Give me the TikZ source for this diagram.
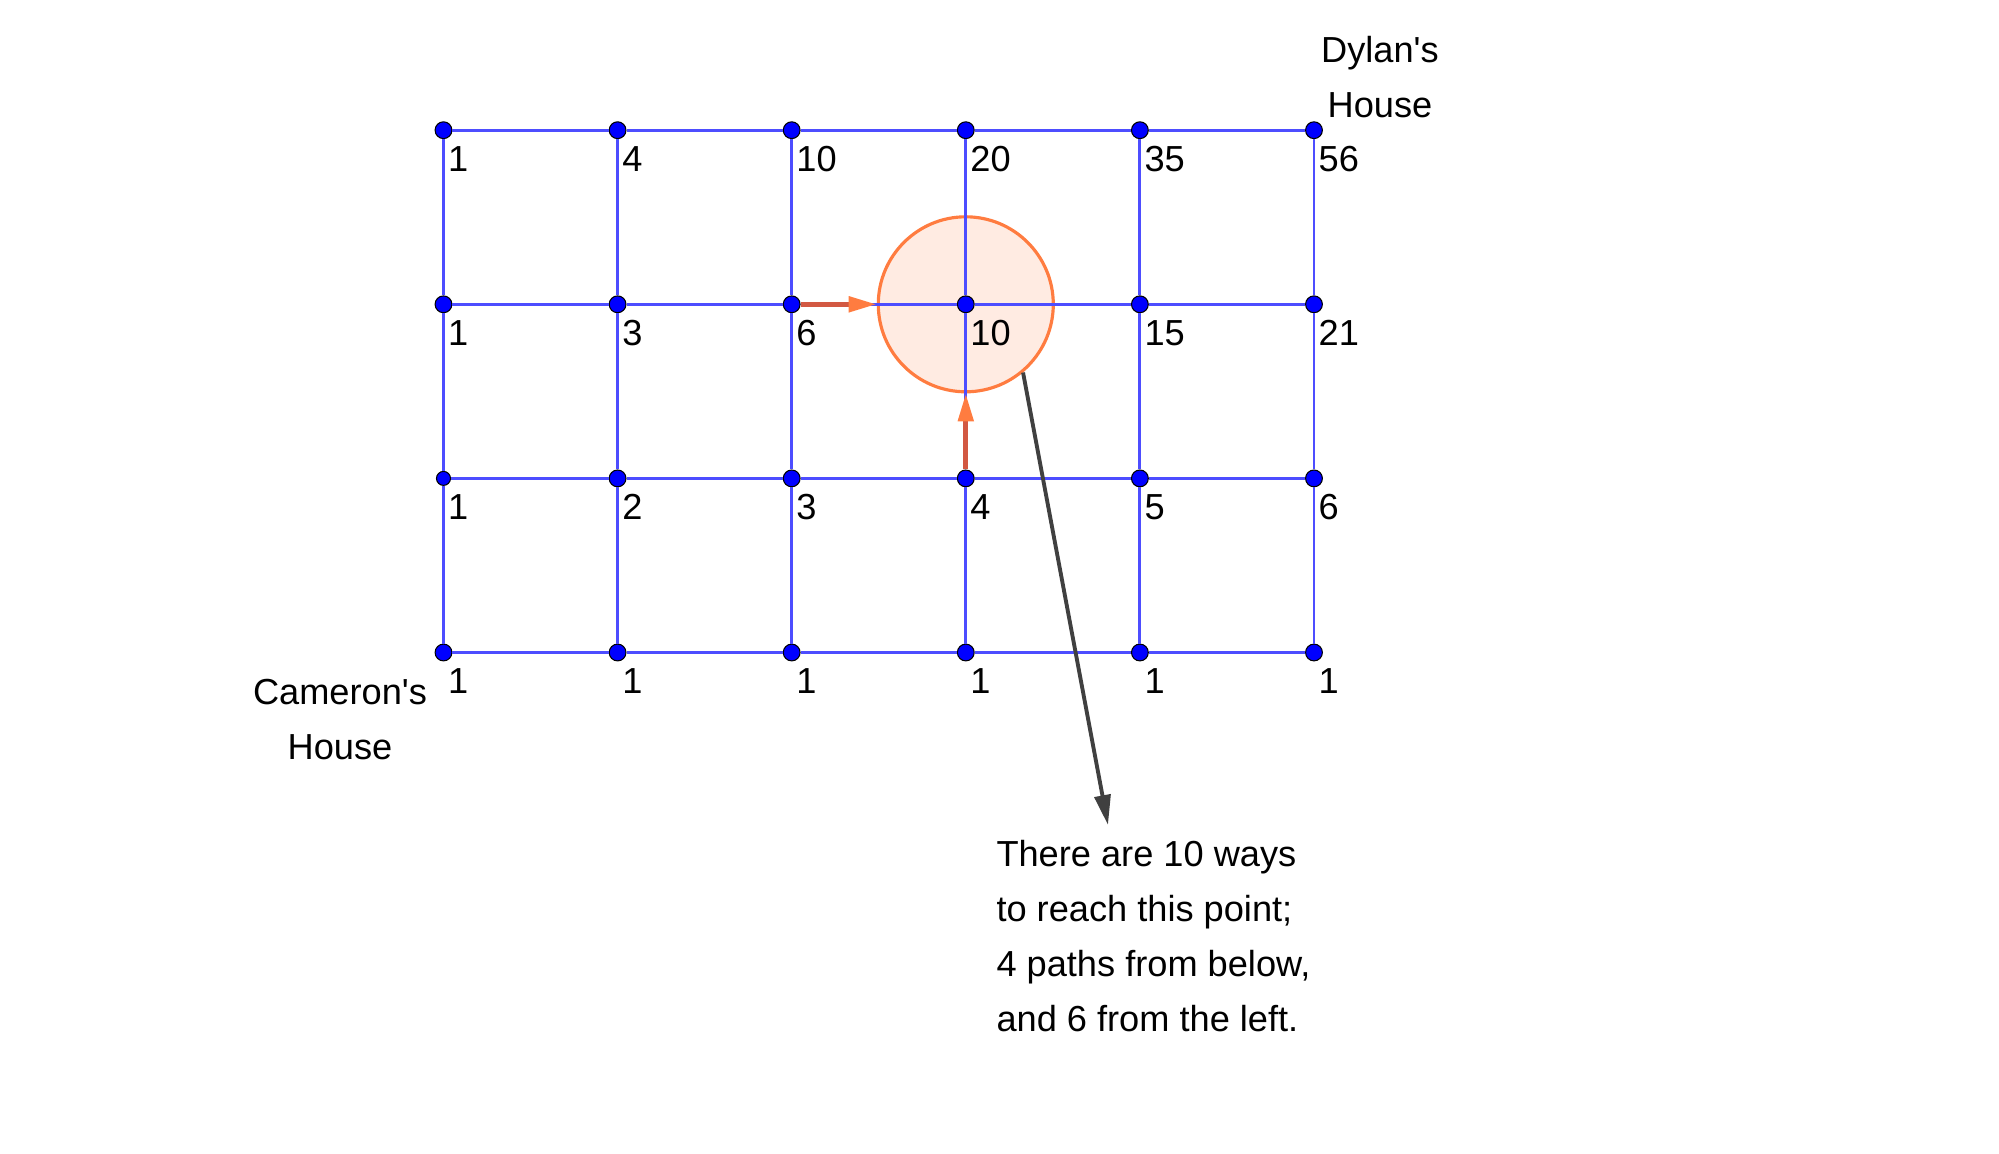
\documentclass[tikz,border=0pt]{standalone}
\usepackage{fontspec}
\setmainfont{Liberation Sans}
\usetikzlibrary{arrows.meta}

\definecolor{gridblue}{RGB}{77,77,255}
\definecolor{dotblue}{RGB}{0,0,255}
\definecolor{hiorange}{RGB}{255,124,64}
\definecolor{pathred}{RGB}{210,88,66}
\definecolor{notegray}{RGB}{64,64,64}

\begin{document}
\begin{tikzpicture}[x=1.741cm, y=1.741cm,
  dot/.style={circle, fill=dotblue, draw=black, line width=0.3pt, inner sep=0pt, minimum size=0.168cm},
  gridline/.style={gridblue, line width=0.85pt},
  numlabel/.style={anchor=base west, inner sep=0pt, font=\fontsize{10.3}{15.6}\selectfont},
  housetext/.style={anchor=north, align=center, inner sep=0pt, font=\fontsize{10.3}{15.6}\selectfont},
  notetext/.style={anchor=north west, align=left, inner sep=0pt, font=\fontsize{10.3}{15.6}\selectfont},
  hub/.style={circle, draw=hiorange, fill=hiorange!15, line width=0.9pt, inner sep=0pt, minimum size=1.75cm},
  pathline/.style={pathred, line width=1.4pt, -{Triangle[length=0.28cm,width=0.15cm,color=hiorange]}},
  callout/.style={notegray, line width=1.1pt, -{Triangle[length=0.3cm,width=0.16cm]}}]

\useasboundingbox (-4.435cm,-5.015cm) rectangle (15.555cm,6.525cm);

% Highlighted point
\node[hub] (hub) at (3,2) {};

% Points
\foreach \i in {0,...,5}
  \foreach \j in {0,2,3}
    \node[dot] (n\i\j) at (\i,\j) {};
\foreach \i in {1,...,5}
  \node[dot] (n\i1) at (\i,1) {};
\node[dot, minimum size=0.14cm] (n01) at (0,1) {};

% Grid
\foreach \i in {0,...,5}
  \foreach \j/\k in {0/1,1/2,2/3}
    \draw[gridline] (n\i\j) -- (n\i\k);
\foreach \j in {0,...,3}
  \foreach \i/\k in {0/1,1/2,2/3,3/4,4/5}
    \draw[gridline] (n\i\j) -- (n\k\j);

% Path counts
\foreach \v [count=\c from 0] in {1,1,1,1,1,1}
  \node[numlabel] (l\c0) at ([shift={(0.04cm,-0.41cm)}]n\c0.center) {\v};
\foreach \v [count=\c from 0] in {1,2,3,4,5,6}
  \node[numlabel] (l\c1) at ([shift={(0.04cm,-0.41cm)}]n\c1.center) {\v};
\foreach \v [count=\c from 0] in {1,3,6,10,15,21}
  \node[numlabel] (l\c2) at ([shift={(0.04cm,-0.41cm)}]n\c2.center) {\v};
\foreach \v [count=\c from 0] in {1,4,10,20,35,56}
  \node[numlabel] (l\c3) at ([shift={(0.04cm,-0.41cm)}]n\c3.center) {\v};

% Incoming paths
\draw[pathline] (n22) -- (hub);
\draw[pathline] (n31) -- (hub);

% Houses
\node[housetext] (dylan) at (9.365cm,6.167cm) {Dylan\textquotesingle s\\House};
\node[housetext] (cameron) at (-1.035cm,-0.26cm) {Cameron\textquotesingle s\\House};

% Note
\coordinate (tip) at (6.645cm,-1.725cm);
\draw[callout] (hub.-50) -- (tip);
\node[notetext] (note) at (5.523cm,-1.875cm) {There are 10 ways\\to reach this point;\\4 paths from below,\\and 6 from the left.};

\end{tikzpicture}
\end{document}
